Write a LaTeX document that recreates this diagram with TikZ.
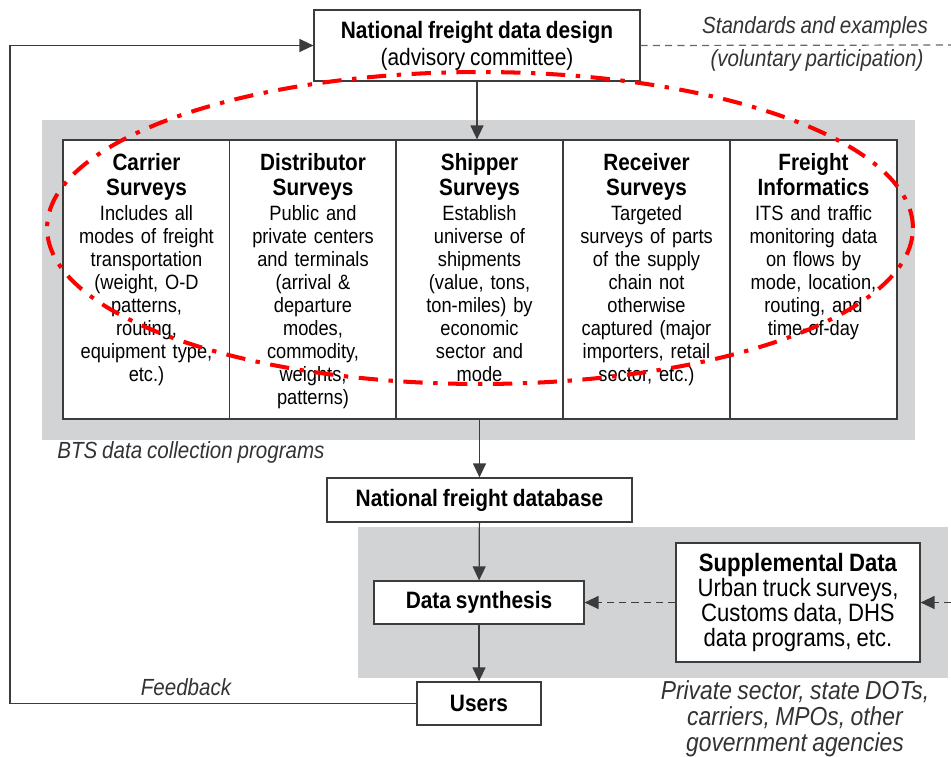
\documentclass[tikz,border=0pt]{standalone}
\usepackage{fontspec}
\setmainfont{Liberation Sans}[FakeStretch=0.88, WordSpace=0.85]
\usetikzlibrary{arrows.meta,positioning,calc}
\definecolor{bandgray}{RGB}{209,211,212}
\definecolor{linegray}{RGB}{60,60,60}
\newcommand{\hd}[1]{{\fontsize{13.4}{15}\selectfont\bfseries #1}}

\begin{document}
\begin{tikzpicture}[
  x=0.02cm, y=-0.02cm,
  font=\fontsize{13.5}{15.5}\selectfont,
  box/.style={draw=linegray, line width=0.7pt, fill=white, align=center, inner sep=0pt},
  cell/.style={draw=linegray, line width=0.7pt, fill=white, minimum width=3.34cm,
               minimum height=5.58cm, inner sep=0pt},
  celltext/.style={anchor=north, align=center, text width=3.3cm, inner sep=0pt, yshift=-0.27cm,
                   font=\fontsize{11.8}{13.1}\selectfont},
  flow/.style={draw=linegray, line width=0.7pt, -{Triangle[length=0.28cm,width=0.26cm]}},
  dflow/.style={flow, dash pattern=on 4pt off 3pt},
  note/.style={font=\fontsize{13.3}{14.5}\selectfont\itshape, text=black!80, inner sep=0pt}
]
\useasboundingbox (0,0) rectangle (951,757);

% grey bands
\fill[bandgray] (42,120) rectangle (915,440);
\fill[bandgray] (358,527) rectangle (948,678);

% design committee
\node[box, minimum width=6.52cm, minimum height=1.42cm] (design) at (477,45.5)
  {\textbf{National freight data design}\\(advisory committee)};

% survey programs
\foreach \n/\x in {carrier/146.5, distributor/313, shipper/479.5, receiver/646.5, informatics/813.5}
  \node[cell] (\n) at (\x,279.5) {};

\node[celltext] (carriertxt) at (carrier.north)
  {\hd{Carrier}\\[1.1pt]\hd{Surveys}\\[1.1pt]Includes all\\modes of freight\\transportation\\(weight, O-D\\patterns,\\routing,\\equipment type,\\etc.)};
\node[celltext] (distributortxt) at (distributor.north)
  {\hd{Distributor}\\[1.1pt]\hd{Surveys}\\[1.1pt]Public and\\private centers\\and terminals\\(arrival \&\\departure\\modes,\\commodity,\\weights,\\patterns)};
\node[celltext] (shippertxt) at (shipper.north)
  {\hd{Shipper}\\[1.1pt]\hd{Surveys}\\[1.1pt]Establish\\universe of\\shipments\\(value, tons,\\ton-miles) by\\economic\\sector and\\mode};
\node[celltext] (receivertxt) at (receiver.north)
  {\hd{Receiver}\\[1.1pt]\hd{Surveys}\\[1.1pt]Targeted\\surveys of parts\\of the supply\\chain not\\otherwise\\captured (major\\importers, retail\\sector, etc.)};
\node[celltext] (informaticstxt) at (informatics.north)
  {\hd{Freight}\\[1.1pt]\hd{Informatics}\\[1.1pt]ITS and traffic\\monitoring data\\on flows by\\mode, location,\\routing, and\\time-of-day};

% lower chain
\node[box, minimum width=6.1cm, minimum height=0.88cm] (db) at (479.5,500)
  {\textbf{National freight database}};
\node[box, minimum width=4.2cm, minimum height=0.86cm] (synth) at (479,602.5)
  {\textbf{Data synthesis}};
\node[box, minimum width=4.88cm, minimum height=2.38cm, font=\fontsize{14.3}{14.4}\selectfont] (supp) at (798,602.5)
  {\textbf{Supplemental Data}\\Urban truck surveys,\\Customs data, DHS\\data programs, etc.};
\node[box, minimum width=2.48cm, minimum height=0.86cm] (users) at (479,703.5)
  {\textbf{Users}};

\coordinate (stdend) at (951,45);
\coordinate (suppin) at (951,602.5);
\coordinate (fbcorner) at (10,400);

% connectors
\draw[flow] (design.south) -- (design.south |- shipper.north);
\draw[flow] (shipper.south) -- (db.north);
\draw[flow] (db) -- (synth);
\draw[flow] (synth) -- (users);
\draw[dflow] (supp) -- (synth);
\draw[dflow] (suppin) -- (supp);
\draw[draw=black!60, line width=0.7pt, dash pattern=on 4pt off 3pt] (design.east) -- (stdend);
\draw[flow] (users.west) -| (fbcorner) |- (design.west);

% labels
\node[note] (stdlbl) at (815,27) {Standards and examples};
\node[note] (vollbl) at (817,60) {(voluntary participation)};
\node[note, anchor=west] (btslbl) at (57,452) {BTS data collection programs};
\node[note] (fblbl) at (186,687) {Feedback};
\node[note, align=center, font=\fontsize{14.8}{14.75}\selectfont\itshape] (privlbl) at (795,719)
  {Private sector, state DOTs,\\carriers, MPOs, other\\government agencies};

% highlight
\draw[red, line width=2.3pt, dash pattern=on 11pt off 6pt on 2.5pt off 6pt]
  (480,228) ellipse [x radius=8.66cm, y radius=3.12cm];
\end{tikzpicture}
\end{document}
